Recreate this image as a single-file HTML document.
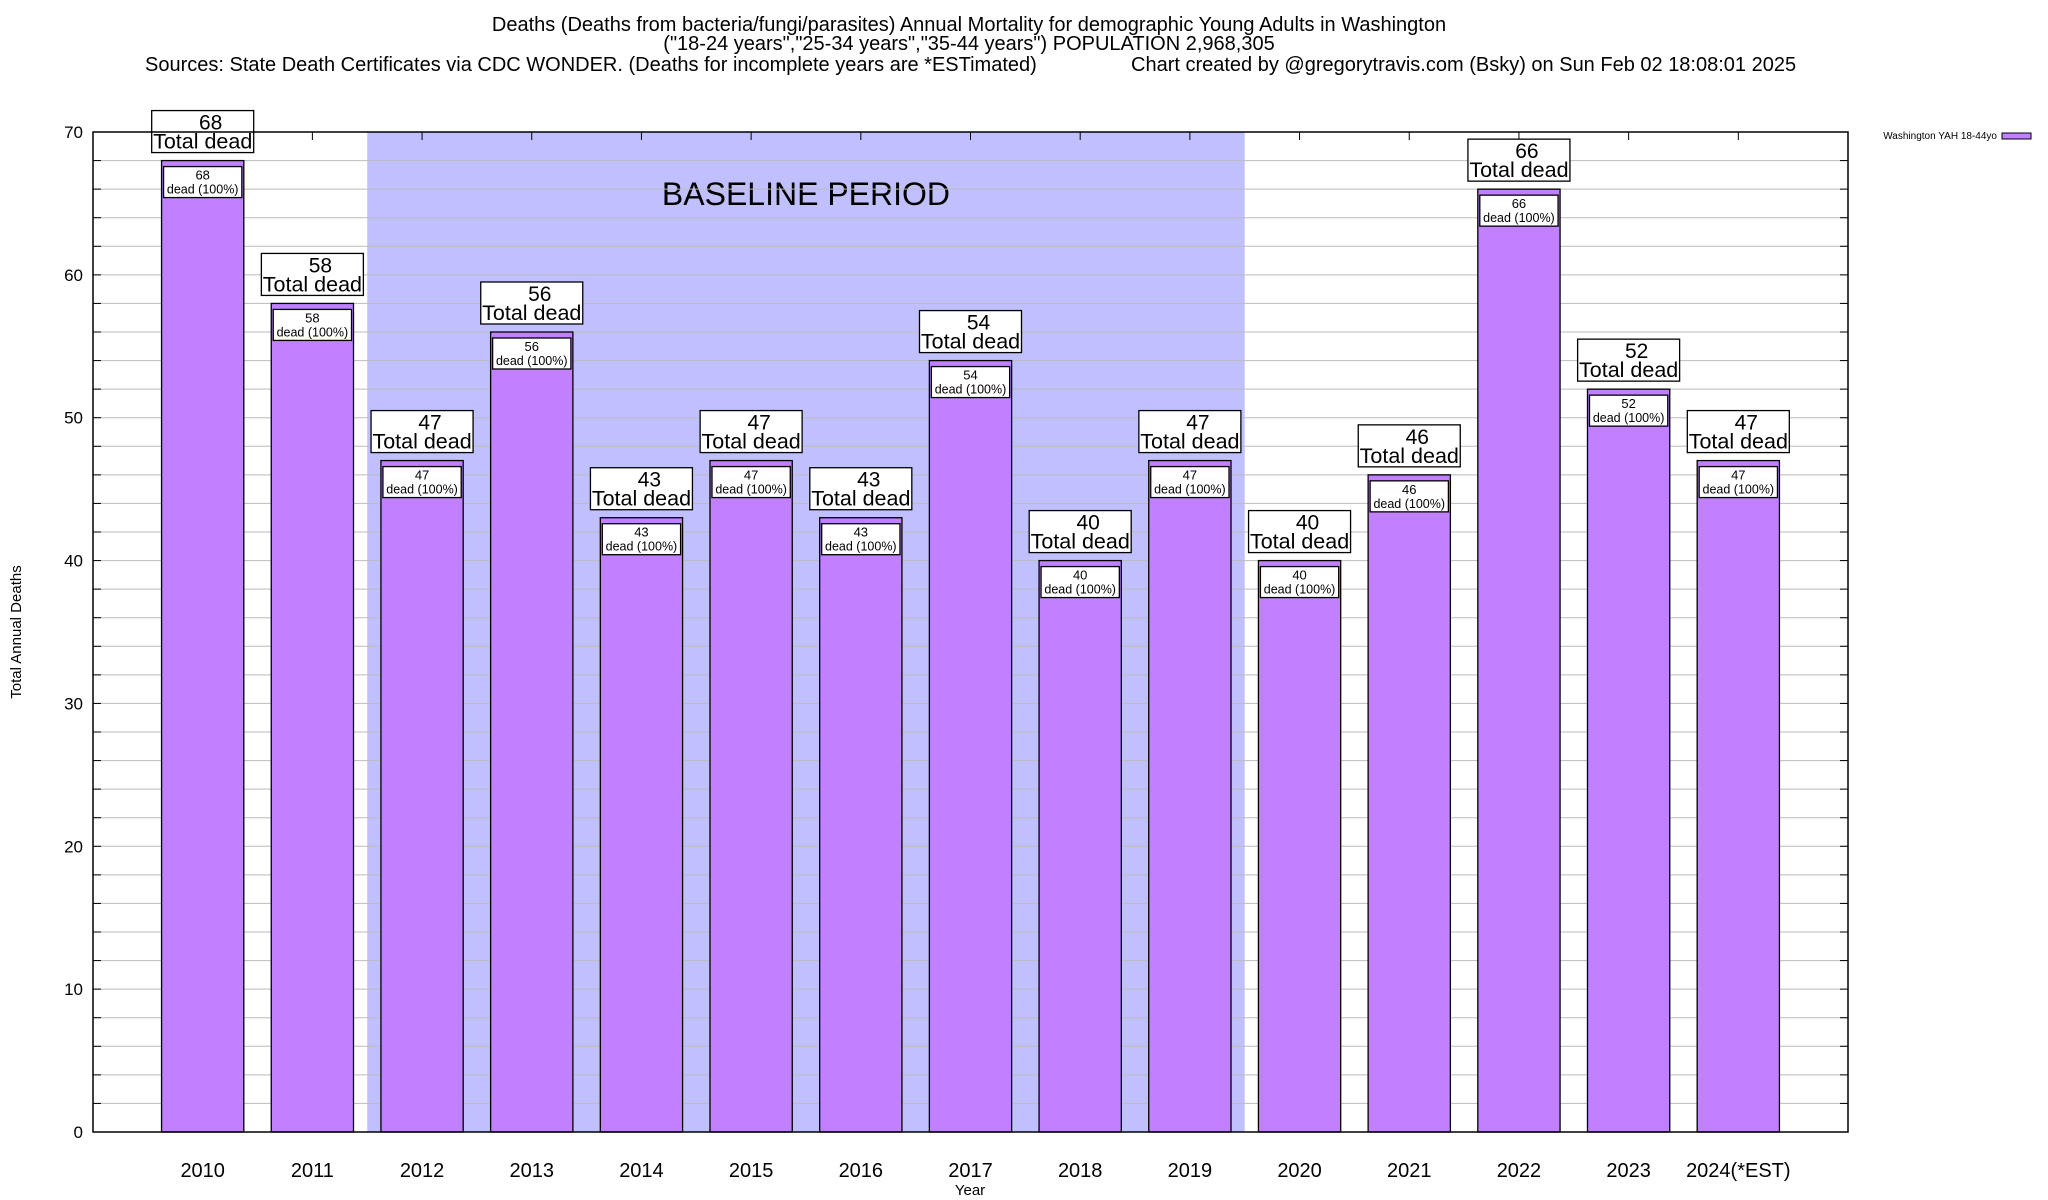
<!DOCTYPE html>
<html><head><meta charset="utf-8"><style>
body{margin:0;background:#fff;}
svg{display:block;font-family:"Liberation Sans",sans-serif;}
</style></head><body>
<svg id="chart" width="2048" height="1200" xmlns="http://www.w3.org/2000/svg">
<text x="969" y="31" font-size="20" text-anchor="middle">Deaths (Deaths from bacteria/fungi/parasites) Annual Mortality for demographic Young Adults in Washington</text>
<text x="969" y="50" font-size="20" text-anchor="middle">("18-24 years","25-34 years","35-44 years") POPULATION 2,968,305</text>
<text x="145" y="71" font-size="20">Sources: State Death Certificates via CDC WONDER. (Deaths for incomplete years are *ESTimated)</text>
<text x="1131" y="71" font-size="20">Chart created by @gregorytravis.com (Bsky) on Sun Feb 02 18:08:01 2025</text>
<g id="plot"></g>
<text transform="translate(21,632) rotate(-90)" font-size="15" text-anchor="middle">Total Annual Deaths</text>
<text x="970" y="1195" font-size="15" text-anchor="middle">Year</text>
<text x="1997" y="139" font-size="10" text-anchor="end">Washington YAH 18-44yo</text>
<rect x="2002" y="133" width="29" height="6" fill="#c080ff" stroke="#000" stroke-width="1"/>
</svg>
<script>
const categories=["2010","2011","2012","2013","2014","2015","2016","2017","2018","2019","2020","2021","2022","2023","2024(*EST)"];
const deaths=[68,58,47,56,43,47,43,54,40,47,40,46,66,52,47];
const yTicks=[0,10,20,30,40,50,60,70];
const baselineStart=1.5, baselineEnd=9.5;
const L=93,R=1848,T=132,B=1132,Y_MAX=70;
const NS="http://www.w3.org/2000/svg";
const g=document.getElementById('plot');
function xs(i){return L+(i+1)*(R-L)/16;}
function ys(v){return B-(v/Y_MAX)*(B-T);}
function mk(tag,attrs,parent){const e=document.createElementNS(NS,tag);for(const k in attrs)e.setAttribute(k,attrs[k]);(parent||g).appendChild(e);return e;}
const unit=(R-L)/16;
let e=mk('rect',{x:xs(baselineStart),y:T,width:xs(baselineEnd)-xs(baselineStart),height:B-T,fill:'#c0c0ff'});


e=mk('text',{x:(xs(baselineStart)+xs(baselineEnd))/2,y:205,'font-size':32,'text-anchor':'middle'});e.textContent='BASELINE PERIOD';


for(let v=2;v<Y_MAX;v+=2){
 e=mk('line',{x1:L,x2:R,y1:ys(v),y2:ys(v),stroke:'#bbb','stroke-width':1});
 
 
 mk('line',{x1:L,x2:L+8,y1:ys(v),y2:ys(v),stroke:'#000'});
 mk('line',{x1:R-8,x2:R,y1:ys(v),y2:ys(v),stroke:'#000'});
}
yTicks.forEach(v=>{
 e=mk('text',{x:83,y:ys(v)+6,'font-size':17,'text-anchor':'end'});e.textContent=v;
 
 
});
const bw=unit*0.75;
categories.forEach((c,i)=>{
 const cx=xs(i),v=deaths[i],top=ys(v);
 mk('line',{x1:cx,x2:cx,y1:B,y2:B-8,stroke:'#000'});
 mk('line',{x1:cx,x2:cx,y1:T,y2:T+8,stroke:'#000'});
 let b=mk('rect',{x:cx-bw/2,y:top,width:bw,height:B-top,fill:'#c080ff',stroke:'#000','stroke-width':1.3});
 
 
 let ib=mk('rect',{x:cx-bw/2+2,y:top+6,width:bw-4,height:31,fill:'#fff',stroke:'#000','stroke-width':1.3});
 
 
 let t=mk('text',{x:cx,y:top+19,'font-size':13,'text-anchor':'middle'});t.textContent=v;
 
 
 t=mk('text',{x:cx,y:top+33,'font-size':12.5,'text-anchor':'middle'});t.textContent='dead (100%)';
 
 
 let ob=mk('rect',{x:cx-51,y:top-50,width:102,height:42,fill:'#fff',stroke:'#000','stroke-width':1.3});
 
 
 t=mk('text',{x:cx+8,y:top-31,'font-size':21,'text-anchor':'middle'});t.textContent=v;
 
 
 t=mk('text',{x:cx,y:top-12,'font-size':21.5,'text-anchor':'middle'});t.textContent='Total dead';
 
 
 t=mk('text',{x:cx,y:1177,'font-size':20,'text-anchor':'middle'});t.textContent=c;
 
 
});
e=mk('rect',{x:L,y:T,width:R-L,height:B-T,fill:'none',stroke:'#000','stroke-width':1.5});


</script>
</body></html>
